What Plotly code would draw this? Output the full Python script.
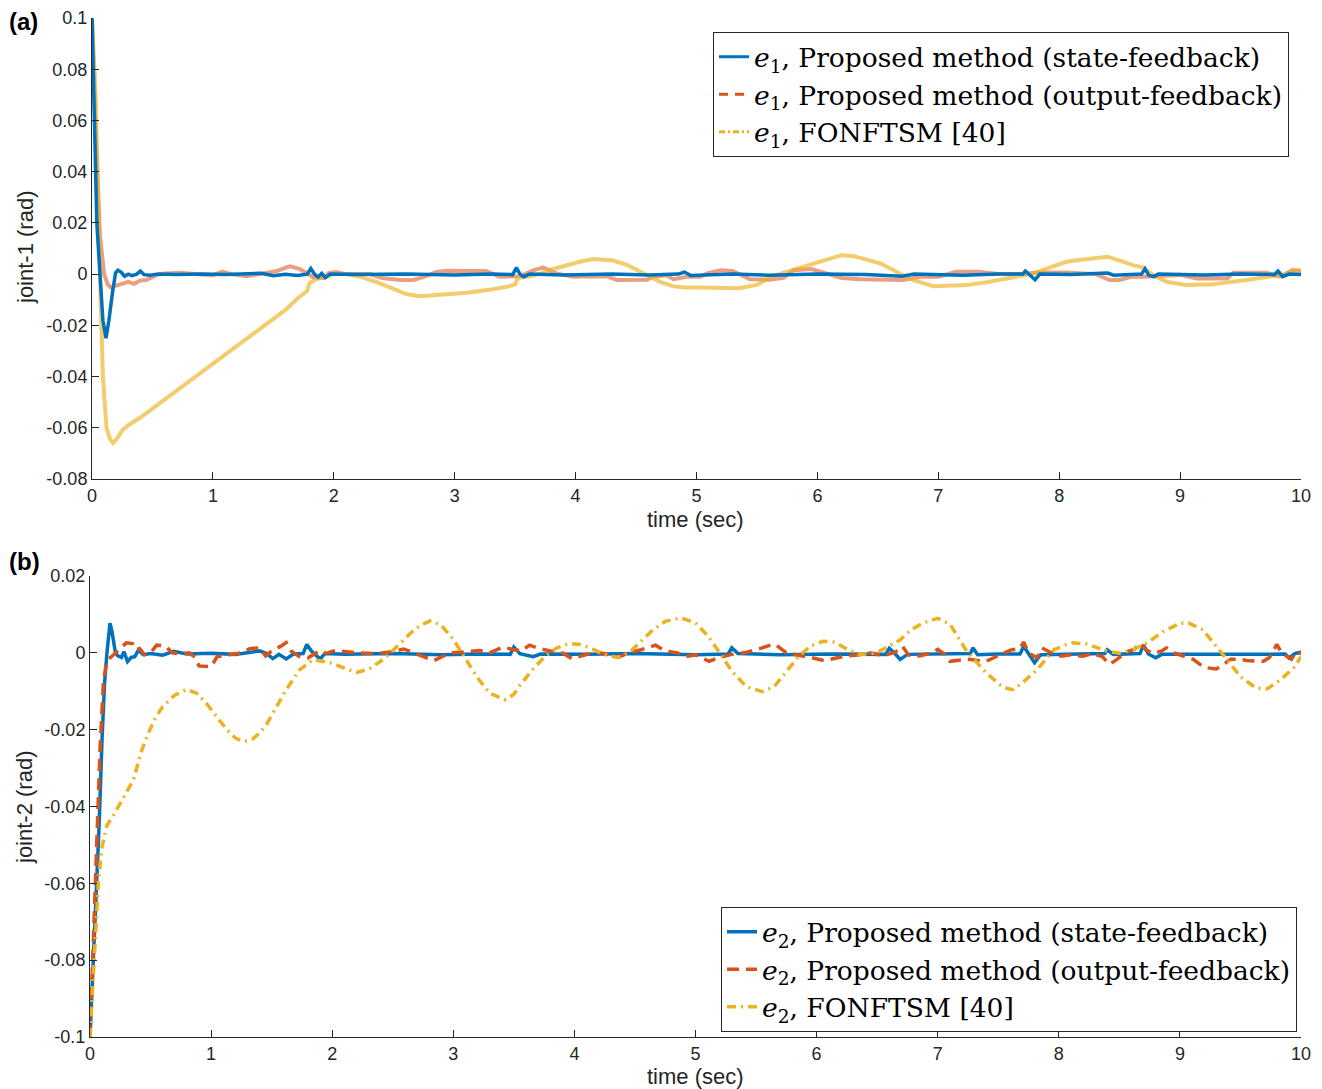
import plotly.graph_objects as go

# ---------------- data ----------------
TIME_TICKS = [0, 1, 2, 3, 4, 5, 6, 7, 8, 9, 10]
Y1_TICKS = [-0.08, -0.06, -0.04, -0.02, 0, 0.02, 0.04, 0.06, 0.08, 0.1]
Y1_LABELS = ["-0.08", "-0.06", "-0.04", "-0.02", "0", "0.02", "0.04", "0.06", "0.08", "0.1"]
Y2_TICKS = [-0.1, -0.08, -0.06, -0.04, -0.02, 0, 0.02]
Y2_LABELS = ["-0.1", "-0.08", "-0.06", "-0.04", "-0.02", "0", "0.02"]

# joint-1, state-feedback (t, e1)
E1_STATE = [(0, 0.1), (0.02, 0.058), (0.04, 0.02), (0.066, 0.0), (0.09, -0.018), (0.116, -0.025),
            (0.14, -0.018), (0.17, -0.007), (0.195, 0.0005), (0.215, 0.0015), (0.24, 0.0008),
            (0.27, -0.0008), (0.3, 0.0), (0.33, -0.0006), (0.37, 0.0), (0.4, 0.0012), (0.43, -0.0002),
            (0.48, -0.0004), (0.55, 0.0), (0.7, -0.0002), (0.9, 0.0), (1.1, -0.0002), (1.3, 0.0),
            (1.4, 0.0003), (1.5, -0.0006), (1.6, -0.0001), (1.7, -0.0005), (1.78, 0.0), (1.81, 0.0022),
            (1.84, 0.0), (1.87, -0.0012), (1.9, 0.0003), (1.93, -0.0014), (1.97, 0.0), (2.2, -0.0002),
            (2.6, 0.0), (3.0, -0.0003), (3.3, 0.0), (3.48, -0.0002), (3.51, 0.0025), (3.54, 0.0),
            (3.57, -0.001), (3.62, 0.0), (3.9, -0.0003), (4.3, 0.0), (4.6, -0.0003), (4.85, 0.0),
            (4.9, 0.0008), (4.95, -0.0005), (5.3, 0.0), (5.6, -0.0004), (6.0, 0.0), (6.4, -0.0002),
            (6.7, -0.0008), (6.8, 0.0), (7.2, -0.0004), (7.5, 0.0), (7.7, 0.0), (7.72, 0.0012),
            (7.76, -0.0004), (7.8, -0.0022), (7.84, 0.0), (8.1, -0.0002), (8.4, 0.0004), (8.45, -0.0004),
            (8.68, 0.0), (8.71, 0.0021), (8.74, -0.0004), (8.78, -0.001), (8.82, 0.0), (9.2, -0.0003),
            (9.5, 0.0), (9.78, -0.0002), (9.81, 0.0012), (9.85, -0.001), (9.9, 0.0), (10.0, -0.0002)]

# joint-1, output-feedback
E1_OUTPUT = [(0, 0.1), (0.03, 0.055), (0.066, 0.015), (0.1, 0.0), (0.13, -0.004), (0.155, -0.0052),
             (0.2, -0.0045), (0.26, -0.0036), (0.3, -0.003), (0.35, -0.0038), (0.4, -0.0025),
             (0.45, -0.0023), (0.5, -0.0012), (0.53, -0.0004), (0.6, 0.0002), (0.73, 0.0005),
             (0.85, 0.0), (1.0, -0.0004), (1.08, 0.001), (1.15, 0.0), (1.28, -0.0008), (1.4, 0.0),
             (1.53, 0.0012), (1.6, 0.0025), (1.64, 0.003), (1.72, 0.002), (1.78, 0.0), (1.83, -0.0012),
             (1.91, -0.0015), (1.96, 0.0005), (2.02, 0.0008), (2.1, 0.0), (2.3, 0.0), (2.4, -0.0015),
             (2.55, -0.0023), (2.66, -0.0023), (2.75, -0.001), (2.85, 0.0008), (2.93, 0.0013),
             (3.1, 0.0014), (3.26, 0.0012), (3.37, -0.001), (3.54, -0.0008), (3.65, 0.0015),
             (3.73, 0.0026), (3.84, 0.0003), (3.98, -0.001), (4.1, -0.0008), (4.26, -0.0009),
             (4.34, -0.0023), (4.5, -0.0024), (4.59, -0.0022), (4.64, -0.001), (4.75, -0.0004),
             (4.81, -0.002), (4.92, -0.001), (5.03, -0.001), (5.1, 0.0005), (5.2, 0.0015), (5.3, 0.0012),
             (5.44, -0.002), (5.6, -0.0022), (5.72, -0.0015), (5.8, 0.0015), (5.95, 0.002),
             (6.05, 0.0005), (6.2, -0.0015), (6.35, -0.002), (6.5, -0.0022), (6.71, -0.0023),
             (6.85, -0.001), (7.0, -0.001), (7.15, 0.0009), (7.32, 0.0009), (7.5, 0.0), (7.7, 0.0),
             (7.82, 0.0006), (8.06, 0.0006), (8.3, 0.0), (8.42, -0.0023), (8.5, -0.0023), (8.6, -0.001),
             (8.7, -0.001), (8.9, -0.0003), (9.0, -0.0003), (9.14, -0.0017), (9.39, -0.0017),
             (9.44, 0.0005), (9.72, 0.0005), (9.83, -0.001), (9.93, 0.0016), (10.0, 0.0012)]

# joint-1, FONFTSM [40]
E1_FONFTSM = [(0, 0.1), (0.03, 0.07), (0.066, 0.0), (0.09, -0.04), (0.12, -0.06), (0.15, -0.0645),
              (0.175, -0.066), (0.21, -0.064), (0.25, -0.061), (0.3, -0.059), (0.4, -0.056),
              (0.5, -0.0525), (0.6, -0.049), (0.7, -0.0455), (0.8, -0.042), (0.9, -0.0385), (1.0, -0.035),
              (1.1, -0.0315), (1.2, -0.028), (1.3, -0.0245), (1.4, -0.021), (1.5, -0.0175),
              (1.6, -0.014), (1.7, -0.0095), (1.78, -0.0065), (1.8, -0.0035), (1.85, -0.002),
              (1.9, -0.0015), (2.0, 0.0), (2.1, 0.0), (2.2, -0.0008), (2.35, -0.003), (2.49, -0.0058),
              (2.6, -0.0078), (2.71, -0.0086), (2.9, -0.008), (3.1, -0.0073), (3.3, -0.006),
              (3.43, -0.005), (3.5, -0.004), (3.52, -0.0015), (3.6, -0.001), (3.7, 0.0), (3.8, 0.0018),
              (3.93, 0.0035), (4.05, 0.005), (4.15, 0.0059), (4.31, 0.0053), (4.43, 0.0035),
              (4.53, 0.001), (4.62, -0.001), (4.7, -0.003), (4.81, -0.0048), (4.9, -0.0052),
              (5.03, -0.0052), (5.2, -0.0055), (5.35, -0.0055), (5.5, -0.0042), (5.62, -0.001),
              (5.75, 0.001), (5.9, 0.0032), (6.05, 0.0055), (6.2, 0.0074), (6.3, 0.007), (6.4, 0.0058),
              (6.52, 0.0042), (6.65, 0.001), (6.79, -0.0023), (6.96, -0.0047), (7.1, -0.0046),
              (7.23, -0.0043), (7.4, -0.0032), (7.51, -0.0023), (7.65, -0.001), (7.79, 0.0003),
              (7.92, 0.0025), (8.06, 0.0048), (8.18, 0.0056), (8.28, 0.006), (8.4, 0.0068),
              (8.52, 0.005), (8.61, 0.0035), (8.7, 0.0025), (8.72, 0.0014), (8.8, -0.001),
              (8.89, -0.003), (9.05, -0.0043), (9.27, -0.004), (9.55, -0.0023), (9.83, -0.0004),
              (10.0, 0.0016)]

# joint-2, state-feedback
E2_STATE = [(0, -0.1), (0.025, -0.082), (0.05, -0.064), (0.075, -0.045), (0.1, -0.022), (0.12, -0.008),
            (0.14, 0.0), (0.155, 0.0065), (0.165, 0.0077), (0.18, 0.0058), (0.19, 0.0035), (0.21, 0.0),
            (0.23, -0.0008), (0.26, -0.0012), (0.28, 0.0003), (0.31, -0.0023), (0.34, -0.0012),
            (0.37, -0.001), (0.4, 0.0007), (0.44, -0.0005), (0.5, -0.0002), (0.6, -0.0006),
            (0.69, 0.0004), (0.8, -0.0003), (1.0, -0.0001), (1.2, -0.0004), (1.4, 0.0005),
            (1.46, -0.0002), (1.51, -0.0015), (1.56, -0.0004), (1.62, -0.0016), (1.68, -0.0003),
            (1.76, -0.0002), (1.79, 0.0022), (1.83, 0.0004), (1.87, -0.0006), (1.9, -0.0016),
            (1.94, -0.0002), (2.1, -0.0004), (2.5, -0.0002), (2.9, -0.0005), (3.2, -0.0003),
            (3.47, -0.0004), (3.5, 0.0015), (3.55, -0.0002), (3.66, -0.001), (3.72, -0.0003),
            (4.1, -0.0004), (4.5, -0.0002), (5.0, -0.0005), (5.27, -0.0003), (5.3, 0.0013),
            (5.35, -0.0002), (5.7, -0.0005), (6.1, -0.0003), (6.57, -0.0004), (6.6, 0.0012),
            (6.65, -0.0003), (6.69, -0.0017), (6.75, -0.0004), (7.0, -0.0003), (7.27, -0.0002),
            (7.29, 0.0013), (7.33, -0.0005), (7.5, -0.0003), (7.68, -0.0003), (7.71, 0.0017),
            (7.76, -0.0006), (7.8, -0.0026), (7.85, -0.0005), (8.1, -0.0003), (8.38, -0.0002),
            (8.4, 0.0008), (8.45, -0.0004), (8.67, -0.0002), (8.7, 0.002), (8.74, -0.0003),
            (8.8, -0.0013), (8.85, -0.0004), (9.3, -0.0005), (9.6, -0.0004), (9.87, -0.0003),
            (9.9, -0.0013), (9.95, -0.0002), (10.0, 0.0002)]

# joint-2, output-feedback
E2_OUTPUT = [(0, -0.1), (0.02, -0.082), (0.041, -0.06), (0.063, -0.043), (0.083, -0.025), (0.11, -0.008),
             (0.138, -0.002), (0.17, -0.0012), (0.2, -0.0003), (0.23, 0.0003), (0.27, 0.0015),
             (0.3, 0.0026), (0.35, 0.0024), (0.38, 0.0008), (0.41, 0.0011), (0.45, -0.0005), (0.5, 0.0),
             (0.55, 0.002), (0.62, 0.0018), (0.68, 0.0), (0.75, -0.0003), (0.82, 0.0), (0.87, -0.0012),
             (0.9, -0.0034), (1.0, -0.0036), (1.05, -0.001), (1.15, -0.0005), (1.25, 0.0),
             (1.32, 0.0011), (1.4, 0.0013), (1.45, -0.0008), (1.5, 0.0005), (1.58, 0.0018),
             (1.62, 0.0027), (1.66, 0.0005), (1.73, -0.001), (1.8, -0.0013), (1.85, -0.0003),
             (1.9, 0.0006), (1.95, -0.0002), (2.0, 0.0004), (2.05, 0.0005), (2.2, 0.0), (2.36, -0.0002),
             (2.5, 0.0003), (2.59, 0.001), (2.65, 0.0002), (2.72, -0.0006), (2.84, -0.002),
             (2.92, -0.0008), (3.0, 0.0), (3.1, 0.0003), (3.22, 0.0006), (3.3, 0.0), (3.41, 0.0015),
             (3.5, 0.0008), (3.56, 0.0005), (3.63, 0.002), (3.7, 0.0012), (3.8, 0.0005), (3.9, 0.0),
             (3.98, -0.0015), (4.05, -0.0008), (4.17, 0.0002), (4.25, -0.0002), (4.36, -0.0012),
             (4.45, 0.0), (4.55, 0.0008), (4.67, 0.002), (4.75, 0.0005), (4.85, 0.0), (4.92, -0.001),
             (5.0, -0.0005), (5.11, -0.0022), (5.2, -0.0012), (5.3, -0.0004), (5.4, 0.0), (5.5, 0.0008),
             (5.62, 0.002), (5.66, 0.0022), (5.75, 0.0), (5.85, -0.0005), (5.95, -0.0012),
             (6.06, -0.002), (6.15, -0.0015), (6.25, -0.0008), (6.36, -0.0005), (6.45, 0.0),
             (6.55, -0.0008), (6.65, 0.0002), (6.71, 0.0017), (6.76, -0.0006), (6.85, -0.0008),
             (6.95, 0.0), (7.0, 0.0009), (7.05, -0.0002), (7.1, -0.0022), (7.15, -0.002),
             (7.25, -0.0017), (7.4, -0.0022), (7.5, -0.0008), (7.55, 0.0), (7.6, 0.0007),
             (7.68, 0.0012), (7.71, 0.0028), (7.75, 0.0), (7.82, -0.0013), (7.86, 0.0013),
             (7.95, -0.0002), (8.02, -0.0009), (8.1, -0.0005), (8.2, -0.0009), (8.28, -0.0002),
             (8.36, -0.001), (8.42, -0.003), (8.48, -0.0017), (8.56, 0.0002), (8.63, 0.001),
             (8.67, 0.0026), (8.72, 0.0008), (8.78, -0.0002), (8.85, 0.0005), (8.89, 0.0013),
             (8.95, 0.0), (9.05, -0.001), (9.11, -0.0017), (9.2, -0.0038), (9.3, -0.0042),
             (9.36, -0.003), (9.42, -0.0017), (9.5, -0.0017), (9.55, -0.002), (9.69, -0.0022),
             (9.74, -0.0012), (9.8, 0.0022), (9.84, 0.0), (9.92, -0.0017), (9.96, 0.0003),
             (10.0, -0.0003)]

# joint-2, FONFTSM [40]
E2_FONFTSM = [(0, -0.1), (0.02, -0.088), (0.041, -0.077), (0.069, -0.06), (0.096, -0.051),
              (0.138, -0.045), (0.19, -0.0425), (0.25, -0.039), (0.3, -0.0365), (0.36, -0.033),
              (0.42, -0.026), (0.47, -0.0218), (0.53, -0.0175), (0.6, -0.014), (0.7, -0.011),
              (0.8, -0.0095), (0.88, -0.0105), (0.96, -0.0131), (1.05, -0.0168), (1.13, -0.02),
              (1.2, -0.0222), (1.27, -0.0231), (1.34, -0.0225), (1.4, -0.0209), (1.46, -0.0185),
              (1.51, -0.0157), (1.57, -0.0125), (1.62, -0.0096), (1.68, -0.0068), (1.73, -0.0044),
              (1.79, -0.003), (1.84, -0.0018), (1.92, -0.0022), (2.0, -0.0027), (2.1, -0.004),
              (2.2, -0.0051), (2.3, -0.0043), (2.4, -0.0022), (2.48, 0.0), (2.56, 0.0024),
              (2.65, 0.0052), (2.73, 0.0072), (2.81, 0.0083), (2.9, 0.0072), (3.0, 0.0035),
              (3.1, -0.0015), (3.2, -0.0065), (3.3, -0.0105), (3.43, -0.0122), (3.5, -0.0108),
              (3.55, -0.0085), (3.65, -0.0045), (3.75, -0.0012), (3.85, 0.0012), (3.95, 0.0024),
              (4.05, 0.0022), (4.15, 0.001), (4.25, -0.0005), (4.36, -0.0012), (4.45, 0.0),
              (4.55, 0.003), (4.65, 0.006), (4.75, 0.0082), (4.88, 0.0091), (5.0, 0.0078),
              (5.1, 0.0045), (5.2, 0.0), (5.3, -0.0048), (5.42, -0.0088), (5.55, -0.0101),
              (5.65, -0.0088), (5.75, -0.005), (5.85, -0.001), (5.95, 0.0018), (6.05, 0.003),
              (6.15, 0.0028), (6.25, 0.001), (6.35, -0.0004), (6.45, -0.0002), (6.52, 0.0004),
              (6.6, 0.0018), (6.69, 0.0034), (6.78, 0.006), (6.88, 0.0078), (7.0, 0.009),
              (7.1, 0.0075), (7.17, 0.004), (7.24, 0.0004), (7.4, -0.0052), (7.54, -0.009),
              (7.62, -0.0096), (7.7, -0.0078), (7.82, -0.0044), (7.96, 0.0008), (8.05, 0.002),
              (8.12, 0.0026), (8.23, 0.0023), (8.32, 0.0012), (8.4, 0.0004), (8.5, -0.0001),
              (8.61, 0.0008), (8.73, 0.0026), (8.86, 0.0055), (9.0, 0.0077), (9.07, 0.0078),
              (9.19, 0.006), (9.3, 0.0018), (9.39, -0.0018), (9.5, -0.0062), (9.63, -0.0092),
              (9.72, -0.0094), (9.83, -0.007), (9.94, -0.0039), (10.0, -0.001)]

LEGEND1 = ["<i>e</i><sub>1</sub>, Proposed method (state-feedback)",
           "<i>e</i><sub>1</sub>, Proposed method (output-feedback)",
           "<i>e</i><sub>1</sub>, FONFTSM [40]"]
LEGEND2 = ["<i>e</i><sub>2</sub>, Proposed method (state-feedback)",
           "<i>e</i><sub>2</sub>, Proposed method (output-feedback)",
           "<i>e</i><sub>2</sub>, FONFTSM [40]"]

# ---------------- styling ----------------
BLUE, ORANGE, YELLOW = "#0072BD", "#D95319", "#EDB120"
AX = "#262626"
W, H = 1322, 1089


def xs(s):
    return [p[0] for p in s]


def ys(s):
    return [p[1] for p in s]


fig = go.Figure()

# --- panel (a): dense data, drawn as continuous translucent lines ---
fig.add_trace(go.Scatter(x=xs(E1_OUTPUT), y=ys(E1_OUTPUT), mode="lines", showlegend=False,
                         line=dict(color=ORANGE, width=4), opacity=0.55, xaxis="x", yaxis="y"))
fig.add_trace(go.Scatter(x=xs(E1_FONFTSM), y=ys(E1_FONFTSM), mode="lines", showlegend=False,
                         line=dict(color=YELLOW, width=4), opacity=0.65, xaxis="x", yaxis="y"))
fig.add_trace(go.Scatter(x=xs(E1_STATE), y=ys(E1_STATE), mode="lines", showlegend=False,
                         line=dict(color=BLUE, width=3.5), xaxis="x", yaxis="y"))
# legend entries for panel (a)
for name, col, dash in zip(LEGEND1, [BLUE, ORANGE, YELLOW], ["solid", "9px,7px", "6px,3px,2px,3px"]):
    fig.add_trace(go.Scatter(x=[None], y=[None], mode="lines", name=name, legend="legend",
                             line=dict(color=col, width=3, dash=dash), xaxis="x", yaxis="y"))

# --- panel (b) ---
fig.add_trace(go.Scatter(x=xs(E2_STATE), y=ys(E2_STATE), mode="lines", name=LEGEND2[0], legend="legend2",
                         line=dict(color=BLUE, width=3.5), xaxis="x2", yaxis="y2"))
fig.add_trace(go.Scatter(x=xs(E2_OUTPUT), y=ys(E2_OUTPUT), mode="lines", name=LEGEND2[1], legend="legend2",
                         line=dict(color=ORANGE, width=3.5, dash="12px,7px"), xaxis="x2", yaxis="y2"))
fig.add_trace(go.Scatter(x=xs(E2_FONFTSM), y=ys(E2_FONFTSM), mode="lines", name=LEGEND2[2], legend="legend2",
                         line=dict(color=YELLOW, width=3.5, dash="9px,5px,2px,5px"), xaxis="x2", yaxis="y2"))


def px_x(p):
    return p / W


def px_y(p):
    return 1 - p / H


SANS = "Liberation Sans, Arial"
tickfont = dict(family=SANS, size=18, color=AX)
common_x = dict(range=[0, 10], tickmode="array", tickvals=TIME_TICKS, ticks="inside", ticklen=7,
                tickcolor=AX, showline=True, linecolor=AX, linewidth=1, mirror=False, showgrid=False,
                zeroline=False, tickfont=tickfont, automargin=False)
common_y = dict(tickmode="array", ticks="inside", ticklen=7, tickcolor=AX, showline=True, linecolor=AX,
                linewidth=1, mirror=False, showgrid=False, zeroline=False, tickfont=tickfont,
                automargin=False)

legend_font = dict(family="DejaVu Serif", size=26.5, color="#000000")
title_font = dict(family=SANS, size=22, color=AX)

fig.update_layout(
    width=W, height=H, margin=dict(l=0, r=0, t=0, b=0),
    paper_bgcolor="white", plot_bgcolor="white",
    xaxis=dict(domain=[px_x(92), px_x(1301)], anchor="y", **common_x),
    yaxis=dict(domain=[px_y(479), px_y(18)], anchor="x", range=[-0.08, 0.1],
               tickvals=Y1_TICKS, ticktext=Y1_LABELS, **common_y),
    xaxis2=dict(domain=[px_x(90), px_x(1301)], anchor="y2", **common_x),
    yaxis2=dict(domain=[px_y(1037), px_y(576)], anchor="x2", range=[-0.1, 0.02],
                tickvals=Y2_TICKS, ticktext=Y2_LABELS, **common_y),
    legend=dict(x=px_x(713), y=px_y(32), xanchor="left", yanchor="top", bgcolor="white",
                bordercolor=AX, borderwidth=1, font=legend_font, tracegroupgap=0, itemwidth=30),
    legend2=dict(x=px_x(721), y=px_y(907), xanchor="left", yanchor="top", bgcolor="white",
                 bordercolor=AX, borderwidth=1, font=legend_font, tracegroupgap=0, itemwidth=30),
    annotations=[
        dict(text="<b>(a)</b>", x=px_x(7), y=px_y(6), xref="paper", yref="paper", xanchor="left",
             yanchor="top", showarrow=False, font=dict(family=SANS, size=24, color="#000")),
        dict(text="<b>(b)</b>", x=px_x(7), y=px_y(546), xref="paper", yref="paper", xanchor="left",
             yanchor="top", showarrow=False, font=dict(family=SANS, size=24, color="#000")),
        dict(text="joint-1 (rad)", x=px_x(26), y=px_y(248), xref="paper", yref="paper", textangle=-90,
             xanchor="center", yanchor="middle", showarrow=False, font=title_font),
        dict(text="time (sec)", x=px_x(695), y=px_y(519), xref="paper", yref="paper",
             xanchor="center", yanchor="middle", showarrow=False, font=title_font),
        dict(text="joint-2 (rad)", x=px_x(24), y=px_y(808), xref="paper", yref="paper", textangle=-90,
             xanchor="center", yanchor="middle", showarrow=False, font=title_font),
        dict(text="time (sec)", x=px_x(695), y=px_y(1076), xref="paper", yref="paper",
             xanchor="center", yanchor="middle", showarrow=False, font=title_font),
    ],
)

fig.write_html("out.html")
